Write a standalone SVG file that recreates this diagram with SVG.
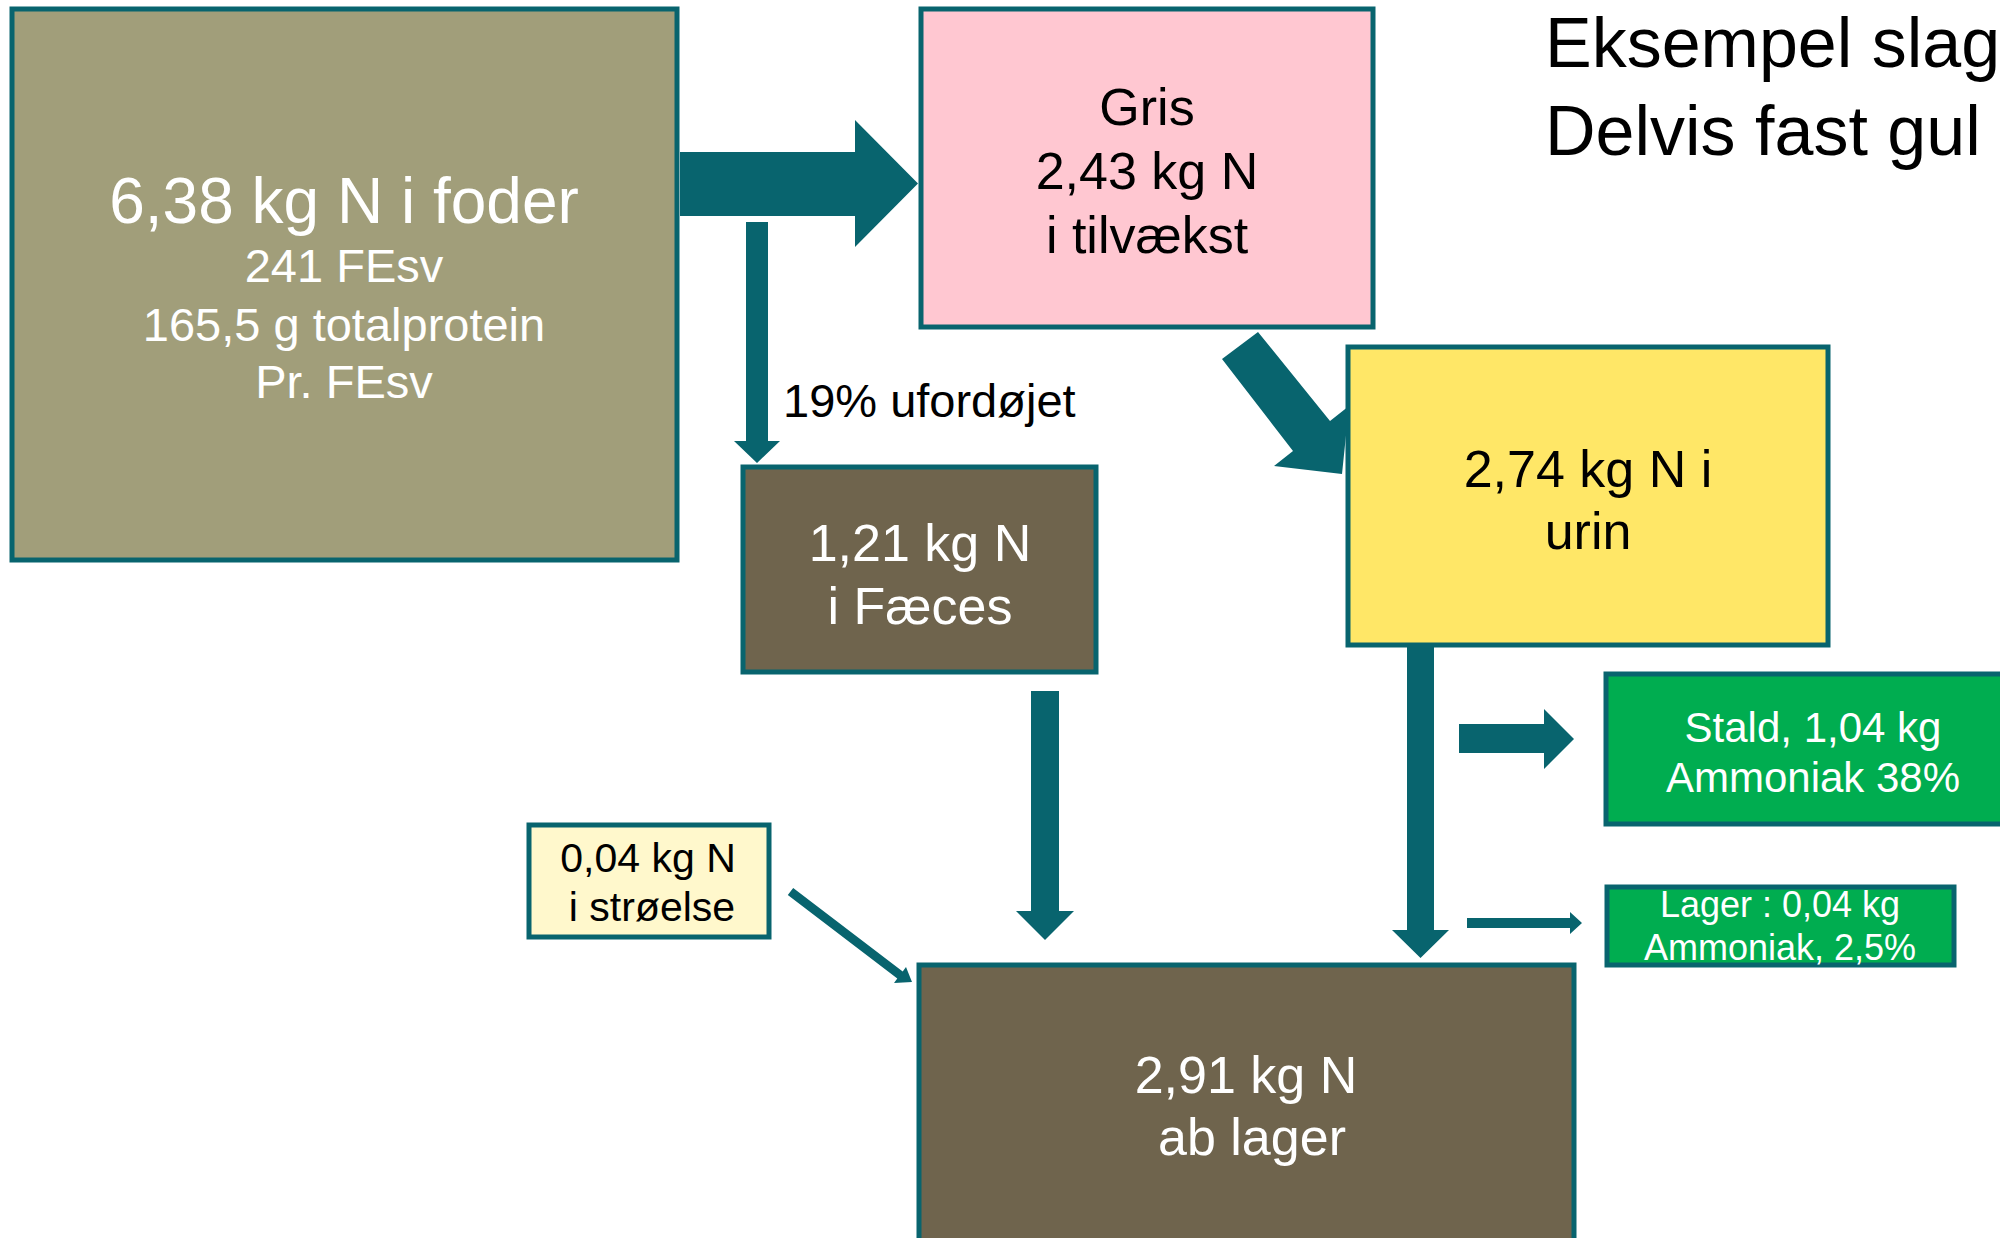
<svg xmlns="http://www.w3.org/2000/svg" width="2000" height="1238" viewBox="0 0 2000 1238">
<style>
  .box { stroke: #08646E; stroke-width: 5; }
  .arrow { fill: #08646E; }
  text { font-family: "Liberation Sans", Arial, sans-serif; text-anchor: middle; }
  .w { fill: #FFFFFF; }
  .k { fill: #000000; }
</style>
<rect width="2000" height="1238" fill="#FFFFFF"/>

<g id="connectors">
  <polygon class="arrow" points="680,152 855,152 855,120 918,183.5 855,247 855,216 680,216"/>
  <polygon class="arrow" points="746,222 768,222 768,441 780,441 757,463 734,441 746,441"/>
  <polygon class="arrow" points="1222,359 1258,332 1330,421 1349,406 1342,474 1274,466 1293,451"/>
  <polygon class="arrow" points="1031,691 1059,691 1059,911 1074,911 1045,940 1016,911 1031,911"/>
  <polygon class="arrow" points="1407,640 1434,640 1434,930 1449,930 1420.5,958 1392,930 1407,930"/>
  <polygon class="arrow" points="1459,724 1544,724 1544,709 1574,739 1544,769 1544,753 1459,753"/>
  <polygon class="arrow" points="1467,918 1570,918 1570,912 1582,923 1570,934 1570,928 1467,928"/>
  <polygon class="arrow" points="787.8,895.1 793.2,887.9 902.7,971.4 906,967 912,982 894,983 897.3,978.6"/>
</g>

<g id="foder">
  <rect class="box" x="12" y="9" width="665" height="551" fill="#A19E7A"/>
  <text class="w" x="344" y="223" font-size="64">6,38 kg N i foder</text>
  <text class="w" x="344" y="282" font-size="47">241 FEsv</text>
  <text class="w" x="344" y="341" font-size="47">165,5 g totalprotein</text>
  <text class="w" x="344" y="398" font-size="47">Pr. FEsv</text>
</g>

<g id="gris">
  <rect class="box" x="921" y="9" width="452" height="318" fill="#FFC7D1"/>
  <text class="k" x="1147" y="125" font-size="52">Gris</text>
  <text class="k" x="1147" y="189" font-size="52">2,43 kg N</text>
  <text class="k" x="1147" y="253" font-size="52">i tilvækst</text>
</g>

<g id="urin">
  <rect class="box" x="1348" y="347" width="480" height="298" fill="#FFE767"/>
  <text class="k" x="1588" y="487" font-size="52">2,74 kg N i</text>
  <text class="k" x="1588" y="549" font-size="52">urin</text>
</g>

<g id="faeces">
  <rect class="box" x="743" y="467" width="353" height="205" fill="#6F644D"/>
  <text class="w" x="920" y="561" font-size="52">1,21 kg N</text>
  <text class="w" x="920" y="624" font-size="52">i Fæces</text>
</g>

<g id="label-ufordoejet">
  <text class="k" x="783" y="417" font-size="47" style="text-anchor:start">19% ufordøjet</text>
</g>

<g id="stald">
  <rect class="box" x="1606" y="674" width="420" height="150" fill="#00AD50"/>
  <text class="w" x="1813" y="742" font-size="42">Stald, 1,04 kg</text>
  <text class="w" x="1813" y="792" font-size="42">Ammoniak 38%</text>
</g>

<g id="lager">
  <rect class="box" x="1607" y="887" width="347" height="78" fill="#00AD50"/>
  <text class="w" x="1780" y="917" font-size="36">Lager : 0,04 kg</text>
  <text class="w" x="1780" y="960" font-size="36">Ammoniak, 2,5%</text>
</g>

<g id="stroelse">
  <rect class="box" x="529" y="825" width="240" height="112" fill="#FFF8CC"/>
  <text class="k" x="648" y="872" font-size="41">0,04 kg N</text>
  <text class="k" x="652" y="921" font-size="41">i strøelse</text>
</g>

<g id="ablager">
  <rect class="box" x="919" y="965" width="655" height="290" fill="#6F644D"/>
  <text class="w" x="1246" y="1093" font-size="52">2,91 kg N</text>
  <text class="w" x="1252" y="1155" font-size="52">ab lager</text>
</g>

<g id="title">
  <text class="k" x="1545" y="67" font-size="70" style="text-anchor:start">Eksempel slag</text>
  <text class="k" x="1545" y="155" font-size="70" style="text-anchor:start">Delvis fast gul</text>
</g>
</svg>
